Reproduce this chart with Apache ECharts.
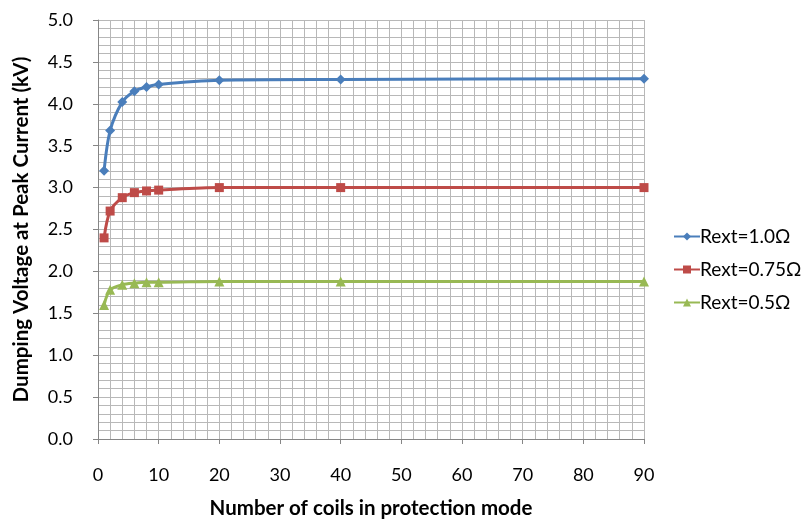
<!DOCTYPE html>
<html><head><meta charset="utf-8">
<script src="https://cdn.jsdelivr.net/npm/echarts@6/dist/echarts.min.js"></script>
<style>html,body{margin:0;padding:0;background:#fff}#c{width:808px;height:519px}</style>
</head><body><div id="c"></div>
<script>
const coils = [1, 2, 4, 6, 8, 10, 20, 40, 90];
const rext10 = [3.20, 3.68, 4.02, 4.15, 4.20, 4.23, 4.28, 4.29, 4.30];
const rext075 = [2.40, 2.72, 2.88, 2.94, 2.96, 2.97, 3.00, 3.00, 3.00];
const rext05 = [1.60, 1.78, 1.84, 1.86, 1.87, 1.87, 1.88, 1.88, 1.88];
const seriesNames = ['Rext=1.0Ω', 'Rext=0.75Ω', 'Rext=0.5Ω'];
const colors = ['#4a7ebb', '#be4b48', '#98b954'];
const pair = (ys) => coils.map((x, i) => [x, ys[i]]);
const font = 'Lato, "Open Sans", sans-serif';
const chart = echarts.init(document.getElementById('c'));
chart.setOption({
  animation: false,
  textStyle: { fontFamily: font },
  grid: { left: 98, right: 164, top: 20, bottom: 80, outerBoundsMode: 'none', containLabel: false },
  legend: {
    orient: 'vertical', left: 668, top: 222, itemGap: 14,
    itemWidth: 26, itemHeight: 10,
    textStyle: { fontSize: 19, color: '#000', fontFamily: font, padding: [0, 0, 0, -5] },
    data: seriesNames
  },
  xAxis: {
    type: 'value', min: 0, max: 90, interval: 10,
    name: 'Number of coils in protection mode', nameLocation: 'middle', nameGap: 59,
    nameTextStyle: { fontSize: 20.5, fontWeight: 'bold', color: '#000' },
    axisLine: { lineStyle: { color: '#868686' } },
    axisTick: { show: true, length: 5, lineStyle: { color: '#868686' } },
    axisLabel: { fontSize: 18, color: '#000', margin: 27 },
    splitLine: { show: true, lineStyle: { color: '#b8b8b8' } },
    minorTick: { show: false, splitNumber: 5 },
    minorSplitLine: { show: true, lineStyle: { color: '#b8b8b8' } }
  },
  yAxis: {
    type: 'value', min: 0, max: 5, interval: 0.5,
    name: 'Dumping Voltage at Peak Current (kV)', nameLocation: 'middle', nameGap: 66,
    nameTextStyle: { fontSize: 20.5, fontWeight: 'bold', color: '#000' },
    axisLine: { show: true, lineStyle: { color: '#868686' } },
    axisTick: { show: true, length: 5, lineStyle: { color: '#868686' } },
    axisLabel: { fontSize: 18, color: '#000', margin: 25, formatter: (v) => v.toFixed(1) },
    splitLine: { show: true, lineStyle: { color: '#b8b8b8' } },
    minorTick: { show: false, splitNumber: 5 },
    minorSplitLine: { show: true, lineStyle: { color: '#b8b8b8' } }
  },
  series: [
    { name: seriesNames[0], type: 'line', data: pair(rext10), smooth: 0.3, symbol: 'diamond', symbolSize: 10,
      itemStyle: { color: colors[0] }, lineStyle: { color: colors[0], width: 3 } },
    { name: seriesNames[1], type: 'line', data: pair(rext075), smooth: 0.3, symbol: 'rect', symbolSize: 9,
      itemStyle: { color: colors[1] }, lineStyle: { color: colors[1], width: 3 } },
    { name: seriesNames[2], type: 'line', data: pair(rext05), smooth: 0.3, symbol: 'triangle', symbolSize: 10,
      itemStyle: { color: colors[2] }, lineStyle: { color: colors[2], width: 3 } }
  ]
});
</script></body></html>
